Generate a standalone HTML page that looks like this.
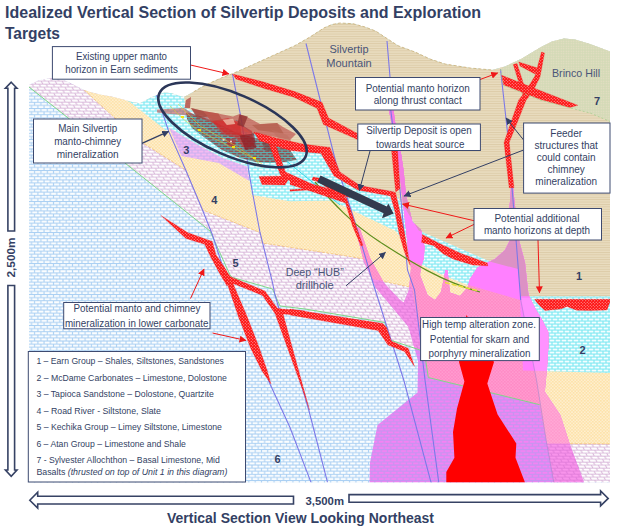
<!DOCTYPE html>
<html lang="en"><head><meta charset="utf-8"><title>Idealized Vertical Section of Silvertip Deposits and Exploration Targets</title>
<style>
html,body{margin:0;padding:0;background:#fff;}
body{width:618px;height:530px;overflow:hidden;font-family:"Liberation Sans",sans-serif;}
svg{display:block;font-family:"Liberation Sans",sans-serif;}
</style></head><body>
<svg width="618" height="530" viewBox="0 0 618 530">
<defs>
<pattern id="pBlue" width="6.3" height="6.2" patternUnits="userSpaceOnUse"><rect width="6.3" height="6.2" fill="#abd0f3"/><rect x="0.55" y="0.55" width="5.2" height="2.05" fill="#fcfeff"/><rect x="3.7" y="3.65" width="5.2" height="2.05" fill="#fcfeff"/><rect x="-2.6" y="3.65" width="5.2" height="2.05" fill="#fcfeff"/></pattern>
<pattern id="pPink" width="7" height="6" patternUnits="userSpaceOnUse" patternTransform="skewX(25)"><rect width="7" height="6" fill="#d9b8da"/><rect x="0.6" y="0.6" width="5.8" height="2.1" fill="#ffffff"/><rect x="4.1" y="3.6" width="5.8" height="2.1" fill="#ffffff"/><rect x="-2.9" y="3.6" width="5.8" height="2.1" fill="#ffffff"/></pattern>
<pattern id="pOrange" width="3.2" height="3.2" patternUnits="userSpaceOnUse"><rect width="3.2" height="3.2" fill="#fde2aa"/><circle cx="0.8" cy="0.8" r="0.7" fill="#fff8e8"/><circle cx="2.4" cy="2.4" r="0.7" fill="#fff8e8"/></pattern>
<pattern id="pCyan" width="6" height="6" patternUnits="userSpaceOnUse"><rect width="6" height="6" fill="#80e9f3"/><rect x="0.6" y="0.6" width="4.8" height="1.9" fill="#f2feff"/><rect x="3.6" y="3.6" width="4.8" height="1.9" fill="#f2feff"/><rect x="-2.4" y="3.6" width="4.8" height="1.9" fill="#f2feff"/></pattern>
<pattern id="pLav" width="6" height="6" patternUnits="userSpaceOnUse"><rect width="6" height="6" fill="#c8b0f0"/><rect x="0.5" y="0.5" width="5" height="2.1" fill="#f4baf2"/><rect x="3.5" y="3.5" width="5" height="2.1" fill="#f4baf2"/><rect x="-2.5" y="3.5" width="5" height="2.1" fill="#f4baf2"/></pattern>
<pattern id="pBrown" width="4" height="2.4" patternUnits="userSpaceOnUse"><rect width="4" height="2.4" fill="#e9dcbf"/><rect y="0" width="4" height="0.9" fill="#dccba7"/></pattern>
<pattern id="pGreen" width="2.5" height="2.5" patternUnits="userSpaceOnUse"><rect width="2.5" height="2.5" fill="#d2dab6"/><rect x="0.6" y="0.6" width="1.3" height="1.3" fill="#eadec6"/></pattern>
<pattern id="pOre" width="6" height="5" patternUnits="userSpaceOnUse"><rect width="6" height="5" fill="#4fb0b0"/><rect x="0.5" y="0.5" width="5" height="1.6" fill="#8a3c3c"/><rect x="3.5" y="3" width="5" height="1.6" fill="#8a3c3c"/><rect x="-2.5" y="3" width="5" height="1.6" fill="#8a3c3c"/></pattern>
<pattern id="pRed" width="3" height="3" patternUnits="userSpaceOnUse"><rect width="3" height="3" fill="#fd1212"/><circle cx="0.75" cy="0.75" r="0.55" fill="#ffc0c0"/><circle cx="2.25" cy="2.25" r="0.55" fill="#ffc0c0"/></pattern>
<marker id="aN" markerWidth="8" markerHeight="8" refX="6.5" refY="3.5" orient="auto" markerUnits="userSpaceOnUse"><path d="M0,0 L7,3.5 L0,7 Z" fill="#333f64"/></marker>
<marker id="aR" markerWidth="8" markerHeight="8" refX="6.5" refY="3.5" orient="auto" markerUnits="userSpaceOnUse"><path d="M0,0 L7,3.5 L0,7 Z" fill="#f01818"/></marker>
<clipPath id="pinkclip"><polygon points="358,227 360,229 370,258 384,283 400,300 403.7,302.5 409,290 411,268 408,250 406,229 402,195 399.5,170 396,150 392,125 388.8,110 393.5,110 395.5,125 400.5,150 403.5,170 406,195 412.5,222 421,229.4 424.6,247 423.8,258.5 421,267 420,275 427.5,295 435,300 441,292 445.5,270 447.5,270 450,292.5 460,296 467.5,287.5 470,279 477.5,267.5 487.5,262.5 495,259 505,250 510,240 509,215 511,187 512,186 513,187 516,215 519,240 525,262.5 528.5,295 535.8,309.4 542.6,320.7 548.3,332 548.5,345 547,368.5 544.8,391.8 560.3,415 569.6,443.4 584,482.4 369.5,482.4 370,462.5 377.5,425 417.5,392.5 418,361 408.6,327 392,307 376,288 364,262 356,231"/></clipPath>
<pattern id="pPBlue" width="6.3" height="6.2" patternUnits="userSpaceOnUse"><rect width="6.3" height="6.2" fill="#c694f0"/><rect x="0.6" y="0.7" width="5.1" height="1.8" fill="#f682f4"/><rect x="3.75" y="3.8" width="5.1" height="1.8" fill="#f682f4"/><rect x="-2.55" y="3.8" width="5.1" height="1.8" fill="#f682f4"/></pattern>
<pattern id="pPPink" width="7" height="6" patternUnits="userSpaceOnUse" patternTransform="skewX(25)"><rect width="7" height="6" fill="#e27edb"/><rect x="0.6" y="0.6" width="5.8" height="2.1" fill="#f994ec"/><rect x="4.1" y="3.6" width="5.8" height="2.1" fill="#f994ec"/><rect x="-2.9" y="3.6" width="5.8" height="2.1" fill="#f994ec"/></pattern>
<pattern id="pPOrange" width="3.2" height="3.2" patternUnits="userSpaceOnUse"><rect width="3.2" height="3.2" fill="#ff8ac6"/><circle cx="0.8" cy="0.8" r="0.7" fill="#ffa8d6"/><circle cx="2.4" cy="2.4" r="0.7" fill="#ffa8d6"/></pattern>
<clipPath id="sil"><polygon points="29,85 38.8,80.2 51.8,78.1 61.5,79.1 72.8,84.3 84.1,90 92,92.5 100,94.5 112.5,96.8 125,100 133,102.3 140,103.3 151,97.5 158,94.5 164.6,92.6 171.8,93.3 180.6,96.2 184,97 193.7,91.8 201,87.5 208.2,83.8 222.8,77.3 233,73.5 262,60.5 294.7,45.7 310,37 323.8,28 332,24.5 340,23 353,23.7 365,27 375.6,31 398,45.7 415,52 430,59 445,64 470,68 492,70 505,66.5 521,59 541,47 552,41.5 564,38.6 575,39.5 590,44 610,51.6 610,482.4 29,482.4"/></clipPath>
</defs>
<rect width="618" height="530" fill="#fff"/>

<g clip-path="url(#sil)">
<rect x="0" y="0" width="618" height="530" fill="url(#pBlue)"/>
<polygon points="29,87 125,163 174.5,202.5 210,231 230,275 232.5,277.5 272.5,289 280,306 305,309 385,322.5 390,340 420,350 424.4,351.6 428.3,377.5 539.6,404.7 553.8,482.4 610,482.4 610,0 29,0" fill="url(#pPink)"/>
<polygon points="78,84 84.1,90 100,104.5 142,142.4 185.7,170 202.5,210 260,232.5 262,243 350,256.5 363.5,259 372.5,279 412,287.5 414,300 424,352 428.3,377.5 539.6,404.7 547,443.5 610,444 610,0 78,0" fill="url(#pOrange)"/>
<polygon points="169,127.5 195.6,143.5 222.3,157.7 247.2,166.6 249.5,181 218.7,163 181.4,156" fill="url(#pLav)"/>
<polygon points="125,100 130,102 168.7,132.6 169,127.5 195.6,143.5 222.3,157.7 247.2,166.6 252,195 290,201.3 332,200.5 360,214 395.7,231 402,239.4 407.5,260 418,263 445,276 465,284 520,300 523,370.5 610,373 610,0 125,0" fill="url(#pCyan)"/>
<polygon points="183,90 184,97 186,108 200,114 215,120 235,129 254,134 280,139 308,146.7 330,147.4 339.7,171.7 359.8,185.5 393.6,191.8 402.5,204 418.7,230.5 445,241.8 468.2,252 491.5,262 518,269 521,296.3 610,296.3 610,0 183,0" fill="url(#pBrown)"/>
<polygon points="500.5,69 505,66.5 521,59 541,47 552,41.5 564,38.6 575,39.5 590,44 610,51.6 610,121.5 590,113 569.7,107.8 540,100 503.4,85.2" fill="url(#pGreen)"/>
<polyline points="84.1,90 100,104.5 142,142.4 185.7,170 202.5,210 260,232.5 262,243 350,256.5 363.5,259 372.5,279 412,287.5 414,300 424,352 428.3,377.5 539.6,404.7 547,443.5 610,444" fill="none" stroke="#f0b050" stroke-width="0.7" stroke-dasharray="3 1.5" opacity="0.8"/>
<g clip-path="url(#pinkclip)">
<rect x="0" y="0" width="618" height="530" fill="url(#pPBlue)"/>
<polygon points="29,87 125,163 174.5,202.5 210,231 230,275 232.5,277.5 272.5,289 280,306 305,309 385,322.5 390,340 420,350 424.4,351.6 428.3,377.5 539.6,404.7 553.8,482.4 610,482.4 610,0 29,0" fill="url(#pPPink)"/>
<polygon points="78,84 84.1,90 100,104.5 142,142.4 185.7,170 202.5,210 260,232.5 262,243 350,256.5 363.5,259 372.5,279 412,287.5 414,300 424,352 428.3,377.5 539.6,404.7 547,443.5 610,444 610,0 78,0" fill="url(#pPOrange)"/>
<polygon points="125,100 130,102 168.7,132.6 169,127.5 195.6,143.5 222.3,157.7 247.2,166.6 252,195 290,201.3 332,200.5 360,214 395.7,231 402,239.4 407.5,260 418,263 445,276 465,284 520,300 523,370.5 610,373 610,0 125,0" fill="#ff80ff"/>
<polygon points="183,90 184,97 186,108 200,114 215,120 235,129 254,134 280,139 308,146.7 330,147.4 339.7,171.7 359.8,185.5 393.6,191.8 402.5,204 418.7,230.5 445,241.8 468.2,252 491.5,262 518,269 521,296.3 610,296.3 610,0 183,0" fill="#dc92c4"/>
</g>
<g clip-path="url(#pinkclip)"><polygon points="521,298 536.5,380 546.6,443.5 620,443.5 620,298" fill="#fff" opacity="0.14"/></g>
<polyline points="29,87 125,163 174.5,202.5 210,231 230,275 232.5,277.5 272.5,289 280,306 305,309 385,322.5 390,340 420,350 424.4,351.6 428.3,377.5 539.6,404.7" fill="none" stroke="#7fd888" stroke-width="1"/>
<polygon points="388.8,110 393.5,110 395.5,125 400.5,150 403.5,170 406,195 402,195 399.5,170 396,150 392.5,125" fill="#f47ce4"/>
<polygon points="466.5,315 475,330 494,362 487.3,383.5 497.6,414.6 516.3,443.4 515.5,457.8 525,482.4 446.3,482.4 446.3,472 454.4,457.8 453,432 457,408.6 464.4,381.4 459,362 462,335" fill="#ff0000"/>
<polyline points="156.5,95 168.7,131.4 185.7,170 202.5,210 212.5,235 227,280 270,384 290,427.5 311,482.4" fill="none" stroke="#7c78e8" stroke-width="1.1"/>
<polyline points="232.5,74 241.7,121.7 249,172.5 252.5,192.5 260,232.5 272.5,282.5 275,295 308.75,410 327.5,482.4" fill="none" stroke="#7c78e8" stroke-width="1.1"/>
<polyline points="306,43.5 336,163 356.5,227 373,283 403.75,380 431,482.4" fill="none" stroke="#7c78e8" stroke-width="1.1"/>
<polyline points="387,41 390,77 390.75,110 392.5,124 396,150 397.5,163 407.5,270 414.5,290 425,380 438.75,482.4" fill="none" stroke="#7c78e8" stroke-width="1.1"/>
<polyline points="500.5,69 508,137 512,187 520.7,300" fill="none" stroke="#7c78e8" stroke-width="1.1"/>
<polyline points="520.7,300 536.5,380 546.6,443 553.8,482.4" fill="none" stroke="#9a86cc" stroke-width="0.9" opacity="0.6"/>
<path d="M315,182 C333,203 352,224 380,242 S440,281 480,292" fill="none" stroke="#5f8f1f" stroke-width="1.2"/>
<path d="M445,282.5 L479,291" fill="none" stroke="#e8e040" stroke-width="1.6" stroke-dasharray="5 2"/>
<path d="M236,120 L300,172 L340,205" fill="none" stroke="#30d8e8" stroke-width="1"/>
<polygon points="186,112 200,116 215,122 235,132 255,138 275,142 290,150 297,160 284,162 270,163 256,162 240,158 222,150 205,138 192,128 187,119" fill="url(#pOre)" opacity="0.88"/>
<polygon points="191,108 204,111 218,113.5 233,116.5 239.5,114 246,116.5 260,124 277,123 283,127 296,134 290,140 270,136 254,134 240,136 225,128 210,122 197,116" fill="#b84040" opacity="0.6"/>
<polygon points="212,121 228,118 240,124 252,131 254,146 244,148 236,138 222,134" fill="#d02c2c" opacity="0.6"/>
<polygon points="191,108 203.7,111.3 207.9,116.6 197.3,118.7" fill="#a04038" opacity="0.7"/>
<polygon points="203.7,111.3 218.4,113.4 222.6,120.8 212,122.9" fill="#b84a40" opacity="0.7"/>
<polygon points="212,120.8 239.4,120.8 241.5,135.5 224.7,133.4" fill="#d42a2a" opacity="0.6"/>
<polygon points="222.6,119.7 233.1,118.7 235.2,123.9 226.8,125" fill="#efc8b0" opacity="0.75"/>
<polygon points="239.4,114.4 247.8,116.6 243.6,127 237.3,125" fill="#8c2c2c" opacity="0.75"/>
<polygon points="252,125 277.3,122.9 283.6,133.4 258.3,130.2" fill="#b05a48" opacity="0.65"/>
<polygon points="271,129.2 287.8,135.5 294,146 279.4,139.7" fill="#c07060" opacity="0.55"/>
<polygon points="239.4,135.5 254,133.4 256.2,148 245.7,150.2" fill="#8a1c24" opacity="0.7"/>
<polygon points="226,138 236,140 234,147 228,146" fill="#c02028" opacity="0.6"/>
<polygon points="262,140 276,143 272,152 264,150" fill="#7a3030" opacity="0.5"/>
<circle cx="223.6" cy="139.7" r="1.1" fill="#fff" opacity="0.8"/><circle cx="231" cy="141.5" r="1" fill="#fff" opacity="0.8"/>
<polygon points="184.5,108 186,100 191,97 190,108" fill="#b04040" opacity="0.75"/>
<polygon points="157,109.5 184,108 196,116 170,114 157,112.5" fill="#c05050" opacity="0.6"/>
<path d="M170,106 L182.6,118.7 L199.5,131 L233,148 L254,158.6 L262.5,168 M178,104 L200,126 L236,146 L262,164" fill="none" stroke="#ecdc20" stroke-width="0.7" opacity="0.7"/>
<path d="M181,117 h3 M198,130 h3 M232,147 h3 M253,158 h3 M246,163 h4" fill="none" stroke="#f4e410" stroke-width="1.8"/>
<polygon points="232.5,74 262,81.6 294.7,91.6 322,102.3 328.5,118 357.5,133.5 375,142 391,148 391,150 357.5,139.5 323.5,124.5 317,108.3 294,97.2 262,87.8 236,79" fill="url(#pRed)" stroke="#f01010" stroke-width="0.25"/>
<polygon points="254,132 280,139 302.7,144 330,147.4 339.7,171.7 359.8,185.5 393.6,191.8 395.7,192.9 399.5,209.8 404.5,233 410,265 404.5,252 399,233 394.5,209.8 390.5,196 357.7,190 334,176 321,153.5 290,150.5 259,140.5" fill="url(#pRed)" stroke="#f01010" stroke-width="0.25"/>
<polygon points="391.5,150 397.5,150 400,188.6 395.7,192" fill="url(#pRed)" stroke="#f01010" stroke-width="0.25"/>
<polygon points="269,144 276,146 285.5,172 312,184 350,194.5 350,197.5 311,188.5 283,178 280,174" fill="url(#pRed)" stroke="#f01010" stroke-width="0.25"/>
<polygon points="259,176.5 284,176 288,180 285,185 262,184.5" fill="url(#pRed)" stroke="#f01010" stroke-width="0.25"/>
<polygon points="290,189.8 315.6,187.8 339,194.3 339,195.7 315,189.6 290,191.2" fill="url(#pRed)" stroke="#f01010" stroke-width="0.25"/>
<polygon points="290,179 317.5,187.6 347,199.2 355.5,224.6 363,245.7 361,246 352.5,226 345.5,203 311,191.3 290,184.5" fill="url(#pRed)" stroke="#f01010" stroke-width="0.25"/>
<polygon points="313,177 321.7,178.5 347,198.5 345,200.5 319,182 312,180" fill="url(#pRed)" stroke="#f01010" stroke-width="0.25"/>
<polygon points="422.4,234.5 439,243.2 461,253.4 487.2,262.9 487.9,265.8 472.6,265 453.7,259.2 443.5,254 433.3,245.4 421.6,242.5" fill="url(#pRed)" stroke="#f01010" stroke-width="0.25"/>
<polygon points="534.7,299.2 610,299.2 610,302 607,310 590,310.6 576.6,310.2 567,306.5 560.7,309 545,310.6 540,306 536,301.5" fill="url(#pRed)" stroke="#f01010" stroke-width="0.25"/>
<polygon points="161,215.5 187.5,232.5 212.3,241.5 216,254.7 223.6,266 231,278 227,286 220.8,275.5 210.4,256.6 204.7,244.3 186,238.5" fill="url(#pRed)" stroke="#f01010" stroke-width="0.25"/>
<polygon points="222,272 231,277 265,291 277.5,308.5 305,311 305,315.5 275,313.5 262.5,295.5 233,283.5 246.5,315 259,347 267,370 271,384 262,371 251,349 238.5,317 226,280" fill="url(#pRed)" stroke="#f01010" stroke-width="0.25"/>
<polygon points="277.5,308.5 282,310 309.5,410 304.5,395 275,313.5" fill="url(#pRed)" stroke="#f01010" stroke-width="0.25"/>
<polygon points="290,309 382.8,323.5 386.6,327.7 391.3,341 408.3,348.5 414.5,366.4 404.5,351.5 388,345 378,330.6 290,315" fill="url(#pRed)" stroke="#f01010" stroke-width="0.25"/>
<polygon points="541.5,52 535,76 525,92 518.7,100 509,128 504,142.5 509.2,187.7 514,187.7 509.2,142.5 515,128 526.2,100 532,93 540,77 544.5,53" fill="url(#pRed)" stroke="#f01010" stroke-width="0.25"/>
<polygon points="501.6,75.3 540,90.4 577.8,105.3 569.7,107.5 540,99.3 503.4,84.8" fill="url(#pRed)" stroke="#f01010" stroke-width="0.25"/>
<polygon points="513.3,64.6 517,63.4 526.5,93 522.5,94.5" fill="url(#pRed)" stroke="#f01010" stroke-width="0.25"/>
<polygon points="518.7,61.9 537.5,68 535,74 520,66" fill="url(#pRed)" stroke="#f01010" stroke-width="0.25"/>
</g>
<polyline points="193.7,91.8 201,87.5 208.2,83.8 222.8,77.3 233,73.5 262,60.5 294.7,45.7 310,37 323.8,28 332,24.5 340,23 353,23.7 365,27 375.6,31 398,45.7 415,52 430,59 445,64 470,68 492,70" fill="none" stroke="#cdb078" stroke-width="0.8" stroke-dasharray="3 2"/>
<polyline points="500.5,69 503.4,85.2 540,100 569.7,107.8 590,113 610,121.5" fill="none" stroke="#a8cf90" stroke-width="0.8" stroke-dasharray="2 2"/>
<ellipse cx="232.5" cy="124.9" rx="79.7" ry="30.8" transform="rotate(23.4 232.5 124.9)" fill="none" stroke="#2b3658" stroke-width="2.6"/>
<polygon points="320.5,175.5 386.8,206.6 388.3,203.5 393.6,213.5 382,218.2 383.6,213.3 317.3,182.2" fill="#333a4d"/>
<line x1="141.4" y1="143.6" x2="168.7" y2="131.4" stroke="#333f64" stroke-width="1.3" marker-end="url(#aN)"/>
<line x1="370.3" y1="150" x2="359.3" y2="190.7" stroke="#333f64" stroke-width="1" marker-end="url(#aN)"/>
<line x1="523.6" y1="150" x2="404" y2="196" stroke="#333f64" stroke-width="1" marker-end="url(#aN)"/>
<line x1="523.6" y1="140" x2="506" y2="118" stroke="#333f64" stroke-width="1" marker-end="url(#aN)"/>
<line x1="346" y1="285.8" x2="385.5" y2="252.3" stroke="#333f64" stroke-width="1" marker-end="url(#aN)"/>
<line x1="190.5" y1="65" x2="229" y2="74" stroke="#f01818" stroke-width="1" marker-end="url(#aR)"/>
<line x1="479.8" y1="79.6" x2="497.7" y2="73" stroke="#f01818" stroke-width="1" marker-end="url(#aR)"/>
<line x1="474" y1="220.7" x2="402.5" y2="204" stroke="#f01818" stroke-width="1" marker-end="url(#aR)"/>
<line x1="474" y1="224.4" x2="446" y2="238" stroke="#f01818" stroke-width="1" marker-end="url(#aR)"/>
<line x1="538" y1="240" x2="539.5" y2="292.8" stroke="#f01818" stroke-width="1" marker-end="url(#aR)"/>
<line x1="190.5" y1="298.5" x2="204" y2="269" stroke="#f01818" stroke-width="1" marker-end="url(#aR)"/>
<line x1="212.5" y1="333" x2="246" y2="340.5" stroke="#f01818" stroke-width="1" marker-end="url(#aR)"/>
<polygon points="11.2,82.2 17,88.3 14.6,88.3 14.6,231 7.9,231 7.9,88.3 5.4,88.3" fill="#fff" stroke="#364264" stroke-width="1.6" stroke-linejoin="miter"/>
<polygon points="7.9,285.5 14.6,285.5 14.6,470 17,470 11.2,476.4 5.4,470 7.9,470" fill="#fff" stroke="#364264" stroke-width="1.6" stroke-linejoin="miter"/>
<polygon points="29.8,500.2 37.7,492.3 37.7,496.3 293.5,496.3 293.5,504 37.7,504 37.7,508.1" fill="#fff" stroke="#364264" stroke-width="1.6" stroke-linejoin="miter"/>
<polygon points="349,494.6 600.6,494.6 600.6,490.9 608.2,498.4 600.6,505.9 600.6,502.2 349,502.2" fill="#fff" stroke="#364264" stroke-width="1.6" stroke-linejoin="miter"/>
<rect x="52.4" y="46.6" width="138.1" height="32.6" fill="#fff" stroke="#3d4a70" stroke-width="1"/>
<text x="121.5" y="60.2" font-size="10" text-anchor="middle" font-weight="normal" font-style="normal" fill="#333f64" textLength="91" lengthAdjust="spacingAndGlyphs">Existing upper manto</text>
<text x="121.5" y="72.8" font-size="10" text-anchor="middle" font-weight="normal" font-style="normal" fill="#333f64" textLength="112.5" lengthAdjust="spacingAndGlyphs">horizon in Earn sediments</text>
<rect x="33.5" y="119" width="108.5" height="44" fill="#fff" stroke="#3d4a70" stroke-width="1"/>
<text x="87.7" y="131.7" font-size="10" text-anchor="middle" font-weight="normal" font-style="normal" fill="#333f64" textLength="59" lengthAdjust="spacingAndGlyphs">Main Silvertip</text>
<text x="87.7" y="144.8" font-size="10" text-anchor="middle" font-weight="normal" font-style="normal" fill="#333f64" textLength="67" lengthAdjust="spacingAndGlyphs">manto-chimney</text>
<text x="87.7" y="157.5" font-size="10" text-anchor="middle" font-weight="normal" font-style="normal" fill="#333f64" textLength="62" lengthAdjust="spacingAndGlyphs">mineralization</text>
<text x="349" y="53" font-size="11.5" text-anchor="middle" font-weight="normal" font-style="normal" fill="#4a5578" textLength="39" lengthAdjust="spacingAndGlyphs">Silvertip</text>
<text x="349" y="67.4" font-size="11.5" text-anchor="middle" font-weight="normal" font-style="normal" fill="#4a5578" textLength="45.6" lengthAdjust="spacingAndGlyphs">Mountain</text>
<rect x="355.5" y="77.5" width="124.5" height="32.5" fill="#fff" stroke="#3d4a70" stroke-width="1"/>
<text x="417.7" y="91.5" font-size="10" text-anchor="middle" font-weight="normal" font-style="normal" fill="#333f64" textLength="104" lengthAdjust="spacingAndGlyphs">Potential manto horizon</text>
<text x="417.7" y="104" font-size="10" text-anchor="middle" font-weight="normal" font-style="normal" fill="#333f64" textLength="88" lengthAdjust="spacingAndGlyphs">along thrust contact</text>
<rect x="357.8" y="124" width="122.6" height="26.5" fill="#fff" stroke="#3d4a70" stroke-width="1"/>
<text x="419" y="133.5" font-size="10" text-anchor="middle" font-weight="normal" font-style="normal" fill="#333f64" textLength="105.5" lengthAdjust="spacingAndGlyphs">Silvertip Deposit is open</text>
<text x="420.2" y="147.8" font-size="10" text-anchor="middle" font-weight="normal" font-style="normal" fill="#333f64" textLength="88.5" lengthAdjust="spacingAndGlyphs">towards heat source</text>
<text x="576" y="77" font-size="11.5" text-anchor="middle" font-weight="normal" font-style="normal" fill="#4a5578" textLength="48" lengthAdjust="spacingAndGlyphs">Brinco Hill</text>
<text x="597" y="104.5" font-size="11" text-anchor="middle" font-weight="bold" font-style="normal" fill="#333f64">7</text>
<rect x="523.6" y="123" width="86.4" height="70.1" fill="#fff" stroke="#3d4a70" stroke-width="1"/>
<text x="566.2" y="136.5" font-size="10" text-anchor="middle" font-weight="normal" font-style="normal" fill="#333f64">Feeder</text>
<text x="566.2" y="148.7" font-size="10" text-anchor="middle" font-weight="normal" font-style="normal" fill="#333f64">structures that</text>
<text x="566.2" y="160.9" font-size="10" text-anchor="middle" font-weight="normal" font-style="normal" fill="#333f64">could contain</text>
<text x="566.2" y="173.1" font-size="10" text-anchor="middle" font-weight="normal" font-style="normal" fill="#333f64">chimney</text>
<text x="566.2" y="185.3" font-size="10" text-anchor="middle" font-weight="normal" font-style="normal" fill="#333f64">mineralization</text>
<rect x="474" y="208.5" width="127.5" height="31.5" fill="#fff" stroke="#3d4a70" stroke-width="1"/>
<text x="536.9" y="222" font-size="10" text-anchor="middle" font-weight="normal" font-style="normal" fill="#333f64" textLength="85" lengthAdjust="spacingAndGlyphs">Potential additional</text>
<text x="536.9" y="234" font-size="10" text-anchor="middle" font-weight="normal" font-style="normal" fill="#333f64" textLength="106" lengthAdjust="spacingAndGlyphs">manto horizons at depth</text>
<text x="579" y="280" font-size="11" text-anchor="middle" font-weight="bold" font-style="normal" fill="#333f64">1</text>
<text x="582.6" y="354" font-size="11" text-anchor="middle" font-weight="bold" font-style="normal" fill="#333f64">2</text>
<text x="186.2" y="153.5" font-size="11" text-anchor="middle" font-weight="bold" font-style="normal" fill="#333f64">3</text>
<text x="214.2" y="203.5" font-size="11" text-anchor="middle" font-weight="bold" font-style="normal" fill="#333f64">4</text>
<text x="235.5" y="267" font-size="11" text-anchor="middle" font-weight="bold" font-style="normal" fill="#333f64">5</text>
<text x="277.5" y="462.5" font-size="11" text-anchor="middle" font-weight="bold" font-style="normal" fill="#333f64">6</text>
<rect x="420.6" y="317.5" width="118.7" height="43.1" fill="#fff" stroke="#3d4a70" stroke-width="1"/>
<text x="479" y="328.4" font-size="10" text-anchor="middle" font-weight="normal" font-style="normal" fill="#333f64" textLength="113.8" lengthAdjust="spacingAndGlyphs">High temp alteration zone.</text>
<text x="479.5" y="342.9" font-size="10" text-anchor="middle" font-weight="normal" font-style="normal" fill="#333f64" textLength="99.5" lengthAdjust="spacingAndGlyphs">Potential for skarn and</text>
<text x="479.5" y="356.6" font-size="10" text-anchor="middle" font-weight="normal" font-style="normal" fill="#333f64" textLength="102" lengthAdjust="spacingAndGlyphs">porphyry mineralization</text>
<text x="314.7" y="276" font-size="11.5" text-anchor="middle" font-weight="normal" font-style="normal" fill="#4a5578" textLength="58" lengthAdjust="spacingAndGlyphs">Deep “HUB”</text>
<text x="314.7" y="289.3" font-size="11.5" text-anchor="middle" font-weight="normal" font-style="normal" fill="#4a5578" textLength="38" lengthAdjust="spacingAndGlyphs">drillhole</text>
<rect x="63.7" y="302.5" width="146.3" height="26.25" fill="#fff" stroke="#3d4a70" stroke-width="1"/>
<text x="137" y="311.7" font-size="10" text-anchor="middle" font-weight="normal" font-style="normal" fill="#333f64" textLength="127" lengthAdjust="spacingAndGlyphs">Potential manto and chimney</text>
<text x="136.7" y="326.5" font-size="10" text-anchor="middle" font-weight="normal" font-style="normal" fill="#333f64" textLength="143.5" lengthAdjust="spacingAndGlyphs">mineralization in lower carbonate</text>
<rect x="28.3" y="351.5" width="217.2" height="130.5" fill="#fff" stroke="#3d4a70" stroke-width="1"/>
<text x="36.4" y="364.2" font-size="8.7" text-anchor="start" font-weight="normal" font-style="normal" fill="#333f64" textLength="187.5" lengthAdjust="spacingAndGlyphs">1 – Earn Group – Shales, Siltstones, Sandstones</text>
<text x="36.4" y="380.7" font-size="8.7" text-anchor="start" font-weight="normal" font-style="normal" fill="#333f64" textLength="190.5" lengthAdjust="spacingAndGlyphs">2 – McDame Carbonates – Limestone, Dolostone</text>
<text x="36.4" y="397" font-size="8.7" text-anchor="start" font-weight="normal" font-style="normal" fill="#333f64" textLength="177.5" lengthAdjust="spacingAndGlyphs">3 – Tapioca Sandstone – Dolostone, Quartzite</text>
<text x="36.4" y="413.6" font-size="8.7" text-anchor="start" font-weight="normal" font-style="normal" fill="#333f64" textLength="124.5" lengthAdjust="spacingAndGlyphs">4 – Road River -  Siltstone, Slate</text>
<text x="36.4" y="430.2" font-size="8.7" text-anchor="start" font-weight="normal" font-style="normal" fill="#333f64" textLength="185.5" lengthAdjust="spacingAndGlyphs">5 – Kechika Group – Limey Siltstone, Limestone</text>
<text x="36.4" y="446.8" font-size="8.7" text-anchor="start" font-weight="normal" font-style="normal" fill="#333f64" textLength="149.5" lengthAdjust="spacingAndGlyphs">6 – Atan Group – Limestone and Shale</text>
<text x="36.4" y="463.2" font-size="8.7" text-anchor="start" font-weight="normal" font-style="normal" fill="#333f64" textLength="183.5" lengthAdjust="spacingAndGlyphs">7 - Sylvester Allochthon – Basal Limestone, Mid</text>
<text x="36.4" y="475.3" font-size="8.7" fill="#333f64" textLength="191" lengthAdjust="spacingAndGlyphs">Basalts <tspan font-style="italic">(thrusted on top of Unit 1 in this diagram)</tspan></text>
<text transform="translate(14.8,257.5) rotate(-90)" font-size="10.5" font-weight="bold" text-anchor="middle" fill="#333f64" textLength="40" lengthAdjust="spacingAndGlyphs">2,500m</text>
<text x="305.5" y="504.8" font-size="10.5" text-anchor="start" font-weight="bold" font-style="normal" fill="#333f64" textLength="38.5" lengthAdjust="spacingAndGlyphs">3,500m</text>
<text x="5" y="17.5" font-size="16.5" text-anchor="start" font-weight="bold" font-style="normal" fill="#333f64" textLength="476" lengthAdjust="spacingAndGlyphs">Idealized Vertical Section of Silvertip Deposits and Exploration</text>
<text x="5" y="38.7" font-size="16.5" text-anchor="start" font-weight="bold" font-style="normal" fill="#333f64" textLength="55" lengthAdjust="spacingAndGlyphs">Targets</text>
<text x="167" y="523.3" font-size="14.5" text-anchor="start" font-weight="bold" font-style="normal" fill="#333f64" textLength="267" lengthAdjust="spacingAndGlyphs">Vertical Section View Looking Northeast</text>
</svg></body></html>
